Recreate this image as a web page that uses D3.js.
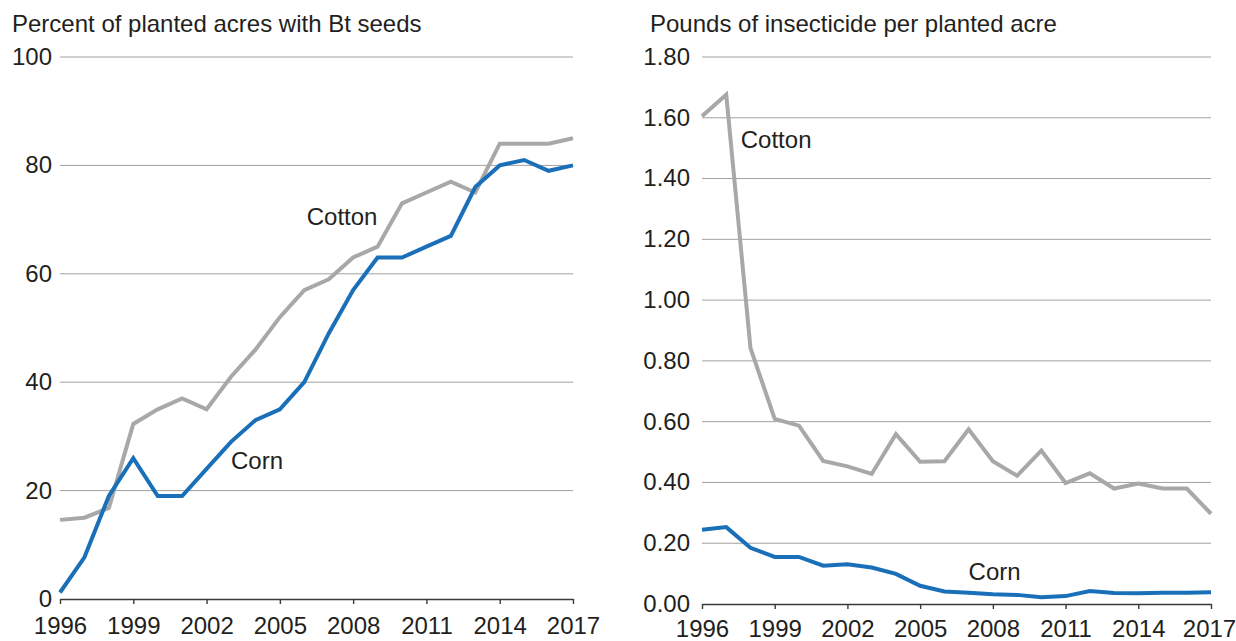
<!DOCTYPE html>
<html>
<head>
<meta charset="utf-8">
<script src="https://cdn.jsdelivr.net/npm/d3@7"></script>
<style>
  body { margin: 0; background: #fff; }
  text { font-family: "Liberation Sans", Arial, Helvetica, sans-serif; fill: #231f20; }
</style>
</head>
<body>
<div id="chart"></div>
<script>
// Data
var years = d3.range(1996, 2018);
var yearTicks = [1996, 1999, 2002, 2005, 2008, 2011, 2014, 2017];

// Percent of planted acres with Bt seeds
var btCorn = [1.2, 7.7, 19, 26, 19, 19, 24, 29, 33, 35, 40, 49, 57, 63, 63, 65, 67, 76, 80, 81, 79, 80];
var btCotton = [14.6, 15, 16.8, 32.3, 35, 37, 35, 41, 46, 52, 57, 59, 63, 65, 73, 75, 77, 75, 84, 84, 84, 85];
var pctTicks = [0, 20, 40, 60, 80, 100];

// Pounds of insecticide per planted acre
var insCorn = [0.244, 0.253, 0.185, 0.155, 0.155, 0.126, 0.131, 0.120, 0.099, 0.060, 0.041, 0.037,
               0.032, 0.030, 0.022, 0.026, 0.043, 0.036, 0.035, 0.037, 0.037, 0.039];
var insCotton = [1.605, 1.676, 0.842, 0.609, 0.587, 0.471, 0.453, 0.428, 0.559, 0.468, 0.470, 0.575,
                 0.470, 0.422, 0.505, 0.398, 0.430, 0.380, 0.396, 0.380, 0.380, 0.297];
var lbTicks = [0, 0.2, 0.4, 0.6, 0.8, 1.0, 1.2, 1.4, 1.6, 1.8];

var cornColor = "#1a70b8";
var cottonColor = "#a8a8a8";
var fontSize = "24px";

var svg = d3.select("#chart").append("svg")
    .attr("width", 1236)
    .attr("height", 641);

function makePanel(opts) {
    var x = d3.scaleLinear().domain([1996, 2017]).range([opts.left, opts.right]);
    var y = d3.scaleLinear().domain(opts.domain).range([opts.bottom, opts.top]);
    var g = svg.append("g");

    g.append("text")
        .attr("x", opts.titleX)
        .attr("y", 32)
        .style("font-size", fontSize)
        .text(opts.title);

    // gridlines
    g.selectAll(".grid")
        .data(opts.ticks.filter(function (d) { return d !== 0; }))
        .enter()
        .append("line")
        .attr("x1", opts.left)
        .attr("x2", opts.right)
        .attr("y1", function (d) { return y(d); })
        .attr("y2", function (d) { return y(d); })
        .attr("stroke", "#a0a0a0")
        .attr("stroke-width", 1);

    // y labels
    g.selectAll(".ylab")
        .data(opts.ticks)
        .enter()
        .append("text")
        .attr("x", opts.left - opts.labelGap)
        .attr("y", function (d) { return y(d); })
        .attr("dy", "0.33em")
        .attr("text-anchor", "end")
        .style("font-size", fontSize)
        .text(opts.fmt);

    // x axis
    var xAxis = d3.axisBottom(x)
        .tickValues(yearTicks)
        .tickFormat(d3.format("d"))
        .tickSize(5)
        .tickSizeOuter(0)
        .tickPadding(opts.tickPad);
    var ax = g.append("g")
        .attr("transform", "translate(0," + opts.bottom + ")")
        .call(xAxis);
    ax.select(".domain").attr("stroke", "#3a3a3a").attr("stroke-width", 1.4);
    ax.selectAll(".tick line").attr("stroke", "#3a3a3a").attr("stroke-width", 1.4);
    ax.selectAll(".tick text")
        .style("font-size", fontSize)
        .style("font-family", "\"Liberation Sans\", Arial, sans-serif")
        .attr("fill", "#231f20")
        .attr("dx", function (d) { return d === 2017 ? -opts.lastShift : 0; });

    var line = d3.line()
        .x(function (d, i) { return x(years[i]); })
        .y(function (d) { return y(d); });

    g.append("path")
        .datum(opts.cotton)
        .attr("d", line)
        .attr("fill", "none")
        .attr("stroke", cottonColor)
        .attr("stroke-width", 4)
        .attr("stroke-linejoin", "miter");

    g.append("path")
        .datum(opts.corn)
        .attr("d", line)
        .attr("fill", "none")
        .attr("stroke", cornColor)
        .attr("stroke-width", 4)
        .attr("stroke-linejoin", "miter");

    opts.labels.forEach(function (l) {
        g.append("text")
            .attr("x", x(l.year))
            .attr("y", y(l.value))
            .style("font-size", fontSize)
            .text(l.text);
    });
}

makePanel({
    left: 60, right: 573, top: 57, bottom: 599, labelGap: 8, tickPad: 13, lastShift: 0,
    domain: [0, 100], ticks: pctTicks,
    fmt: function (d) { return d; },
    titleX: 12, title: "Percent of planted acres with Bt seeds",
    corn: btCorn, cotton: btCotton,
    labels: [
        { text: "Cotton", year: 2006.1, value: 69 },
        { text: "Corn", year: 2003.0, value: 24 }
    ]
});

makePanel({
    left: 702, right: 1211, top: 57, bottom: 604, labelGap: 12, tickPad: 11, lastShift: 2,
    domain: [0, 1.8], ticks: lbTicks,
    fmt: d3.format(".2f"),
    titleX: 650, title: "Pounds of insecticide per planted acre",
    corn: insCorn, cotton: insCotton,
    labels: [
        { text: "Cotton", year: 1997.6, value: 1.5 },
        { text: "Corn", year: 2007.0, value: 0.08 }
    ]
});
</script>
</body>
</html>
